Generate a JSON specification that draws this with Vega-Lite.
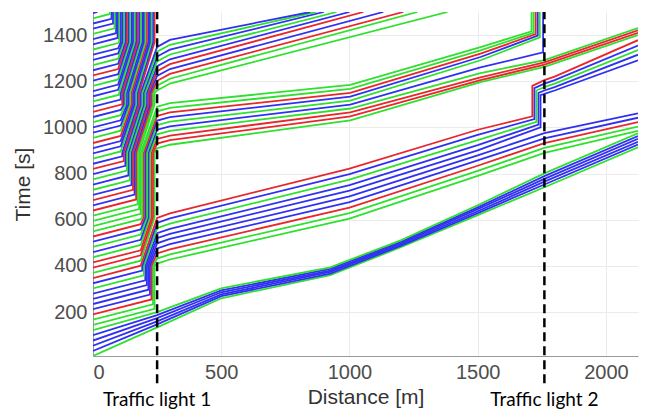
{
"$schema":"https://vega.github.io/schema/vega-lite/v6.json",
"width":545,"height":344,"autosize":"none",
"padding":{"left":93,"top":12,"right":11,"bottom":56},
"background":"white",
"config":{"view":{"stroke":null},
"axis":{"labelFont":"Liberation Sans","labelFontSize":20,"labelColor":"#4d4d4d","titleFont":"Liberation Sans","titleFontSize":21,"titleColor":"#333333","titleFontWeight":"normal","grid":true,"gridColor":"#ebebeb","domainColor":"#9a9a9a","ticks":false,"labelPadding":6,"format":"d"},
"axisX":{"titlePadding":4},"axisY":{"titlePadding":9}},
"layer":[
{"data":{"values":[
{"v":0,"c":"g","x":0,"t":10},{"v":0,"c":"g","x":250,"t":134},{"v":0,"c":"g","x":500,"t":260},{"v":0,"c":"g","x":925,"t":360},{"v":0,"c":"g","x":1200,"t":481},{"v":0,"c":"g","x":1500,"t":620},{"v":0,"c":"g","x":1760,"t":741},{"v":0,"c":"g","x":2125,"t":914},
{"v":1,"c":"b","x":0,"t":32},{"v":1,"c":"b","x":250,"t":147},{"v":1,"c":"b","x":500,"t":269},{"v":1,"c":"b","x":925,"t":367},{"v":1,"c":"b","x":1200,"t":487},{"v":1,"c":"b","x":1500,"t":629},{"v":1,"c":"b","x":1760,"t":753},{"v":1,"c":"b","x":2125,"t":926},
{"v":2,"c":"b","x":0,"t":55},{"v":2,"c":"b","x":250,"t":160},{"v":2,"c":"b","x":500,"t":277},{"v":2,"c":"b","x":925,"t":374},{"v":2,"c":"b","x":1200,"t":493},{"v":2,"c":"b","x":1500,"t":637},{"v":2,"c":"b","x":1760,"t":765},{"v":2,"c":"b","x":2125,"t":938},
{"v":3,"c":"b","x":0,"t":77},{"v":3,"c":"b","x":250,"t":174},{"v":3,"c":"b","x":500,"t":286},{"v":3,"c":"b","x":925,"t":380},{"v":3,"c":"b","x":1200,"t":499},{"v":3,"c":"b","x":1500,"t":646},{"v":3,"c":"b","x":1760,"t":777},{"v":3,"c":"b","x":2125,"t":951},
{"v":4,"c":"b","x":0,"t":100},{"v":4,"c":"b","x":250,"t":187},{"v":4,"c":"b","x":500,"t":294},{"v":4,"c":"b","x":925,"t":387},{"v":4,"c":"b","x":1200,"t":505},{"v":4,"c":"b","x":1500,"t":654},{"v":4,"c":"b","x":1760,"t":789},{"v":4,"c":"b","x":2125,"t":963},
{"v":5,"c":"g","x":0,"t":122},{"v":5,"c":"g","x":250,"t":200},{"v":5,"c":"g","x":500,"t":303},{"v":5,"c":"g","x":925,"t":394},{"v":5,"c":"g","x":1200,"t":511},{"v":5,"c":"g","x":1500,"t":663},{"v":5,"c":"g","x":1760,"t":801},{"v":5,"c":"g","x":2125,"t":975},
{"v":6,"c":"g","x":0,"t":145},{"v":6,"c":"g","x":240,"t":214},{"v":6,"c":"g","x":240,"t":400},{"v":6,"c":"g","x":250,"t":410},{"v":6,"c":"g","x":300,"t":428},{"v":6,"c":"g","x":1000,"t":605},{"v":6,"c":"g","x":1500,"t":790},{"v":6,"c":"g","x":1760,"t":890},{"v":6,"c":"g","x":2125,"t":985},
{"v":7,"c":"g","x":0,"t":167.5},{"v":7,"c":"g","x":234,"t":234},{"v":7,"c":"g","x":234,"t":400},{"v":7,"c":"g","x":250,"t":432},{"v":7,"c":"g","x":300,"t":450},{"v":7,"c":"g","x":1000,"t":629},{"v":7,"c":"g","x":1500,"t":812},{"v":7,"c":"g","x":1760,"t":911},{"v":7,"c":"g","x":2125,"t":1004},
{"v":8,"c":"r","x":0,"t":190},{"v":8,"c":"r","x":228,"t":255},{"v":8,"c":"r","x":228,"t":400},{"v":8,"c":"r","x":250,"t":454},{"v":8,"c":"r","x":300,"t":472},{"v":8,"c":"r","x":1000,"t":653},{"v":8,"c":"r","x":1500,"t":834},{"v":8,"c":"r","x":1760,"t":932},{"v":8,"c":"r","x":2125,"t":1023},
{"v":9,"c":"b","x":0,"t":212.5},{"v":9,"c":"b","x":222,"t":276},{"v":9,"c":"b","x":222,"t":400},{"v":9,"c":"b","x":250,"t":476},{"v":9,"c":"b","x":300,"t":495},{"v":9,"c":"b","x":1000,"t":677},{"v":9,"c":"b","x":1500,"t":857},{"v":9,"c":"b","x":1760,"t":953},{"v":9,"c":"b","x":2125,"t":1042},
{"v":10,"c":"b","x":0,"t":235},{"v":10,"c":"b","x":216,"t":297},{"v":10,"c":"b","x":216,"t":400},{"v":10,"c":"b","x":250,"t":498},{"v":10,"c":"b","x":300,"t":517},{"v":10,"c":"b","x":1000,"t":701},{"v":10,"c":"b","x":1500,"t":879},{"v":10,"c":"b","x":1760,"t":975},{"v":10,"c":"b","x":2125,"t":1061},
{"v":11,"c":"b","x":0,"t":257.5},{"v":11,"c":"b","x":210,"t":317.5},{"v":11,"c":"b","x":210,"t":400},{"v":11,"c":"b","x":250,"t":520},{"v":11,"c":"b","x":300,"t":539},{"v":11,"c":"b","x":1000,"t":726},{"v":11,"c":"b","x":1500,"t":901},{"v":11,"c":"b","x":1745,"t":1000},{"v":11,"c":"b","x":1745,"t":1140},{"v":11,"c":"b","x":1760,"t":1145},{"v":11,"c":"b","x":1800,"t":1160},{"v":11,"c":"b","x":2125,"t":1291},
{"v":12,"c":"b","x":0,"t":280},{"v":12,"c":"b","x":204,"t":338},{"v":12,"c":"b","x":204,"t":400},{"v":12,"c":"b","x":250,"t":542},{"v":12,"c":"b","x":300,"t":561},{"v":12,"c":"b","x":1000,"t":750},{"v":12,"c":"b","x":1500,"t":923},{"v":12,"c":"b","x":1737,"t":1012},{"v":12,"c":"b","x":1737,"t":1150},{"v":12,"c":"b","x":1760,"t":1160},{"v":12,"c":"b","x":1800,"t":1175},{"v":12,"c":"b","x":2125,"t":1315},
{"v":13,"c":"g","x":0,"t":302.5},{"v":13,"c":"g","x":198,"t":359},{"v":13,"c":"g","x":198,"t":400},{"v":13,"c":"g","x":250,"t":564},{"v":13,"c":"g","x":300,"t":583},{"v":13,"c":"g","x":1000,"t":774},{"v":13,"c":"g","x":1500,"t":945},{"v":13,"c":"g","x":1729,"t":1024},{"v":13,"c":"g","x":1729,"t":1160},{"v":13,"c":"g","x":1760,"t":1175},{"v":13,"c":"g","x":1800,"t":1190},{"v":13,"c":"g","x":2125,"t":1335},
{"v":14,"c":"b","x":0,"t":325},{"v":14,"c":"b","x":192,"t":380},{"v":14,"c":"b","x":192,"t":400},{"v":14,"c":"b","x":250,"t":586},{"v":14,"c":"b","x":300,"t":606},{"v":14,"c":"b","x":1000,"t":798},{"v":14,"c":"b","x":1500,"t":968},{"v":14,"c":"b","x":1721,"t":1036},{"v":14,"c":"b","x":1721,"t":1170},{"v":14,"c":"b","x":1760,"t":1190},{"v":14,"c":"b","x":1800,"t":1205},{"v":14,"c":"b","x":2125,"t":1355},
{"v":15,"c":"r","x":0,"t":347.5},{"v":15,"c":"r","x":186,"t":401},{"v":15,"c":"r","x":250,"t":608},{"v":15,"c":"r","x":300,"t":628},{"v":15,"c":"r","x":1000,"t":822},{"v":15,"c":"r","x":1500,"t":990},{"v":15,"c":"r","x":1713,"t":1048},{"v":15,"c":"r","x":1713,"t":1180},{"v":15,"c":"r","x":1760,"t":1205},{"v":15,"c":"r","x":1800,"t":1220},{"v":15,"c":"r","x":2125,"t":1378},
{"v":16,"c":"g","x":0,"t":370},{"v":16,"c":"g","x":186,"t":423},{"v":16,"c":"g","x":240,"t":610},{"v":16,"c":"g","x":240,"t":890},{"v":16,"c":"g","x":250,"t":910},{"v":16,"c":"g","x":300,"t":925},{"v":16,"c":"g","x":1003,"t":1031},{"v":16,"c":"g","x":1511,"t":1196},{"v":16,"c":"g","x":1760,"t":1262},{"v":16,"c":"g","x":2125,"t":1400},
{"v":17,"c":"r","x":0,"t":392.5},{"v":17,"c":"r","x":186,"t":446},{"v":17,"c":"r","x":234,"t":610},{"v":17,"c":"r","x":234,"t":890},{"v":17,"c":"r","x":250,"t":930},{"v":17,"c":"r","x":300,"t":945},{"v":17,"c":"r","x":1003,"t":1048},{"v":17,"c":"r","x":1511,"t":1205},{"v":17,"c":"r","x":1760,"t":1272},{"v":17,"c":"r","x":2125,"t":1410},
{"v":18,"c":"r","x":0,"t":415},{"v":18,"c":"r","x":186,"t":468},{"v":18,"c":"r","x":228,"t":610},{"v":18,"c":"r","x":228,"t":890},{"v":18,"c":"r","x":250,"t":950},{"v":18,"c":"r","x":300,"t":965},{"v":18,"c":"r","x":1003,"t":1065},{"v":18,"c":"r","x":1511,"t":1217},{"v":18,"c":"r","x":1760,"t":1282},{"v":18,"c":"r","x":2125,"t":1421},
{"v":19,"c":"g","x":0,"t":437.5},{"v":19,"c":"g","x":186,"t":491},{"v":19,"c":"g","x":222,"t":610},{"v":19,"c":"g","x":222,"t":890},{"v":19,"c":"g","x":250,"t":970},{"v":19,"c":"g","x":300,"t":985},{"v":19,"c":"g","x":1003,"t":1082},{"v":19,"c":"g","x":1511,"t":1235},{"v":19,"c":"g","x":1760,"t":1292},{"v":19,"c":"g","x":2125,"t":1430},
{"v":20,"c":"b","x":0,"t":460},{"v":20,"c":"b","x":186,"t":513},{"v":20,"c":"b","x":216,"t":610},{"v":20,"c":"b","x":216,"t":890},{"v":20,"c":"b","x":250,"t":990},{"v":20,"c":"b","x":300,"t":1005},{"v":20,"c":"b","x":1003,"t":1099},{"v":20,"c":"b","x":1511,"t":1260},{"v":20,"c":"b","x":1755,"t":1325},{"v":20,"c":"b","x":1755,"t":1500},
{"v":21,"c":"g","x":0,"t":482.5},{"v":21,"c":"g","x":186,"t":536},{"v":21,"c":"g","x":210,"t":610},{"v":21,"c":"g","x":210,"t":890},{"v":21,"c":"g","x":250,"t":1010},{"v":21,"c":"g","x":300,"t":1025},{"v":21,"c":"g","x":1003,"t":1116},{"v":21,"c":"g","x":1511,"t":1291},{"v":21,"c":"g","x":1742,"t":1390},{"v":21,"c":"g","x":1742,"t":1500},
{"v":22,"c":"b","x":0,"t":505},{"v":22,"c":"b","x":186,"t":558},{"v":22,"c":"b","x":204,"t":610},{"v":22,"c":"b","x":204,"t":890},{"v":22,"c":"b","x":250,"t":1030},{"v":22,"c":"b","x":300,"t":1045},{"v":22,"c":"b","x":1003,"t":1133},{"v":22,"c":"b","x":1511,"t":1305},{"v":22,"c":"b","x":1734,"t":1398},{"v":22,"c":"b","x":1734,"t":1500},
{"v":23,"c":"r","x":0,"t":527.5},{"v":23,"c":"r","x":186,"t":581},{"v":23,"c":"r","x":198,"t":610},{"v":23,"c":"r","x":198,"t":890},{"v":23,"c":"r","x":250,"t":1050},{"v":23,"c":"r","x":300,"t":1065},{"v":23,"c":"r","x":1003,"t":1150},{"v":23,"c":"r","x":1511,"t":1320},{"v":23,"c":"r","x":1726,"t":1404},{"v":23,"c":"r","x":1726,"t":1500},
{"v":24,"c":"g","x":0,"t":550},{"v":24,"c":"g","x":186,"t":603},{"v":24,"c":"g","x":192,"t":610},{"v":24,"c":"g","x":192,"t":890},{"v":24,"c":"g","x":250,"t":1070},{"v":24,"c":"g","x":300,"t":1085},{"v":24,"c":"g","x":1003,"t":1167},{"v":24,"c":"g","x":1511,"t":1334},{"v":24,"c":"g","x":1718,"t":1410},{"v":24,"c":"g","x":1718,"t":1500},
{"v":25,"c":"g","x":0,"t":572.5},{"v":25,"c":"g","x":186,"t":626},{"v":25,"c":"g","x":186,"t":890},{"v":25,"c":"g","x":250,"t":1090},{"v":25,"c":"g","x":300,"t":1105},{"v":25,"c":"g","x":1003,"t":1184},{"v":25,"c":"g","x":1511,"t":1348},{"v":25,"c":"g","x":1710,"t":1416},{"v":25,"c":"g","x":1710,"t":1500},
{"v":26,"c":"g","x":0,"t":595},{"v":26,"c":"g","x":180,"t":646},{"v":26,"c":"g","x":180,"t":890},{"v":26,"c":"g","x":240,"t":1100},{"v":26,"c":"g","x":240,"t":1150},{"v":26,"c":"g","x":250,"t":1160},{"v":26,"c":"g","x":300,"t":1190},{"v":26,"c":"g","x":1382,"t":1500},
{"v":27,"c":"g","x":0,"t":617.5},{"v":27,"c":"g","x":174,"t":667},{"v":27,"c":"g","x":174,"t":890},{"v":27,"c":"g","x":234,"t":1100},{"v":27,"c":"g","x":234,"t":1150},{"v":27,"c":"g","x":250,"t":1181},{"v":27,"c":"g","x":300,"t":1211},{"v":27,"c":"g","x":1265,"t":1500},
{"v":28,"c":"r","x":0,"t":640},{"v":28,"c":"r","x":168,"t":688},{"v":28,"c":"r","x":168,"t":890},{"v":28,"c":"r","x":228,"t":1100},{"v":28,"c":"r","x":228,"t":1150},{"v":28,"c":"r","x":250,"t":1202},{"v":28,"c":"r","x":300,"t":1232},{"v":28,"c":"r","x":1210,"t":1500},
{"v":29,"c":"b","x":0,"t":662.5},{"v":29,"c":"b","x":162,"t":709},{"v":29,"c":"b","x":162,"t":890},{"v":29,"c":"b","x":222,"t":1100},{"v":29,"c":"b","x":222,"t":1150},{"v":29,"c":"b","x":250,"t":1223},{"v":29,"c":"b","x":300,"t":1253},{"v":29,"c":"b","x":1132,"t":1500},
{"v":30,"c":"r","x":0,"t":685},{"v":30,"c":"r","x":156,"t":730},{"v":30,"c":"r","x":156,"t":890},{"v":30,"c":"r","x":216,"t":1100},{"v":30,"c":"r","x":216,"t":1150},{"v":30,"c":"r","x":250,"t":1244},{"v":30,"c":"r","x":300,"t":1274},{"v":30,"c":"r","x":1054,"t":1500},
{"v":31,"c":"b","x":0,"t":707.5},{"v":31,"c":"b","x":150,"t":750},{"v":31,"c":"b","x":150,"t":890},{"v":31,"c":"b","x":210,"t":1100},{"v":31,"c":"b","x":210,"t":1150},{"v":31,"c":"b","x":250,"t":1265},{"v":31,"c":"b","x":300,"t":1295},{"v":31,"c":"b","x":1000,"t":1500},
{"v":32,"c":"g","x":0,"t":730},{"v":32,"c":"g","x":144,"t":771},{"v":32,"c":"g","x":144,"t":890},{"v":32,"c":"g","x":204,"t":1100},{"v":32,"c":"g","x":204,"t":1150},{"v":32,"c":"g","x":250,"t":1286},{"v":32,"c":"g","x":300,"t":1316},{"v":32,"c":"g","x":950,"t":1500},
{"v":33,"c":"b","x":0,"t":752.5},{"v":33,"c":"b","x":138,"t":792},{"v":33,"c":"b","x":138,"t":890},{"v":33,"c":"b","x":198,"t":1100},{"v":33,"c":"b","x":198,"t":1150},{"v":33,"c":"b","x":250,"t":1307},{"v":33,"c":"b","x":300,"t":1337},{"v":33,"c":"b","x":900,"t":1500},
{"v":34,"c":"g","x":0,"t":775},{"v":34,"c":"g","x":132,"t":813},{"v":34,"c":"g","x":132,"t":890},{"v":34,"c":"g","x":192,"t":1100},{"v":34,"c":"g","x":192,"t":1150},{"v":34,"c":"g","x":250,"t":1328},{"v":34,"c":"g","x":300,"t":1358},{"v":34,"c":"g","x":870,"t":1500},
{"v":35,"c":"b","x":0,"t":797.5},{"v":35,"c":"b","x":126,"t":833.5},{"v":35,"c":"b","x":126,"t":890},{"v":35,"c":"b","x":186,"t":1100},{"v":35,"c":"b","x":186,"t":1150},{"v":35,"c":"b","x":250,"t":1349},{"v":35,"c":"b","x":300,"t":1379},{"v":35,"c":"b","x":847,"t":1500},
{"v":36,"c":"r","x":0,"t":820},{"v":36,"c":"r","x":120,"t":854},{"v":36,"c":"r","x":120,"t":890},{"v":36,"c":"r","x":180,"t":1100},{"v":36,"c":"r","x":180,"t":1150},{"v":36,"c":"r","x":240,"t":1370},{"v":36,"c":"r","x":240,"t":1500},
{"v":37,"c":"b","x":0,"t":842.5},{"v":37,"c":"b","x":114,"t":875},{"v":37,"c":"b","x":114,"t":890},{"v":37,"c":"b","x":174,"t":1100},{"v":37,"c":"b","x":174,"t":1150},{"v":37,"c":"b","x":234,"t":1370},{"v":37,"c":"b","x":234,"t":1500},
{"v":38,"c":"g","x":0,"t":865},{"v":38,"c":"g","x":108,"t":896},{"v":38,"c":"g","x":168,"t":1100},{"v":38,"c":"g","x":168,"t":1150},{"v":38,"c":"g","x":228,"t":1370},{"v":38,"c":"g","x":228,"t":1500},
{"v":39,"c":"b","x":0,"t":887.5},{"v":39,"c":"b","x":108,"t":918},{"v":39,"c":"b","x":162,"t":1100},{"v":39,"c":"b","x":162,"t":1150},{"v":39,"c":"b","x":222,"t":1370},{"v":39,"c":"b","x":222,"t":1500},
{"v":40,"c":"b","x":0,"t":910},{"v":40,"c":"b","x":108,"t":941},{"v":40,"c":"b","x":156,"t":1100},{"v":40,"c":"b","x":156,"t":1150},{"v":40,"c":"b","x":216,"t":1370},{"v":40,"c":"b","x":216,"t":1500},
{"v":41,"c":"r","x":0,"t":932.5},{"v":41,"c":"r","x":108,"t":963},{"v":41,"c":"r","x":150,"t":1100},{"v":41,"c":"r","x":150,"t":1150},{"v":41,"c":"r","x":210,"t":1370},{"v":41,"c":"r","x":210,"t":1500},
{"v":42,"c":"g","x":0,"t":955},{"v":42,"c":"g","x":108,"t":986},{"v":42,"c":"g","x":144,"t":1100},{"v":42,"c":"g","x":144,"t":1150},{"v":42,"c":"g","x":204,"t":1370},{"v":42,"c":"g","x":204,"t":1500},
{"v":43,"c":"b","x":0,"t":977.5},{"v":43,"c":"b","x":108,"t":1008},{"v":43,"c":"b","x":138,"t":1100},{"v":43,"c":"b","x":138,"t":1150},{"v":43,"c":"b","x":198,"t":1370},{"v":43,"c":"b","x":198,"t":1500},
{"v":44,"c":"b","x":0,"t":1000},{"v":44,"c":"b","x":108,"t":1031},{"v":44,"c":"b","x":132,"t":1100},{"v":44,"c":"b","x":132,"t":1150},{"v":44,"c":"b","x":192,"t":1370},{"v":44,"c":"b","x":192,"t":1500},
{"v":45,"c":"g","x":0,"t":1022.5},{"v":45,"c":"g","x":108,"t":1053},{"v":45,"c":"g","x":126,"t":1100},{"v":45,"c":"g","x":126,"t":1150},{"v":45,"c":"g","x":186,"t":1370},{"v":45,"c":"g","x":186,"t":1500},
{"v":46,"c":"b","x":0,"t":1045},{"v":46,"c":"b","x":108,"t":1076},{"v":46,"c":"b","x":120,"t":1100},{"v":46,"c":"b","x":120,"t":1150},{"v":46,"c":"b","x":180,"t":1370},{"v":46,"c":"b","x":180,"t":1500},
{"v":47,"c":"r","x":0,"t":1067.5},{"v":47,"c":"r","x":114,"t":1100},{"v":47,"c":"r","x":114,"t":1150},{"v":47,"c":"r","x":174,"t":1370},{"v":47,"c":"r","x":174,"t":1500},
{"v":48,"c":"b","x":0,"t":1090},{"v":48,"c":"b","x":108,"t":1121},{"v":48,"c":"b","x":108,"t":1150},{"v":48,"c":"b","x":168,"t":1370},{"v":48,"c":"b","x":168,"t":1500},
{"v":49,"c":"g","x":0,"t":1112.5},{"v":49,"c":"g","x":102,"t":1141.6},{"v":49,"c":"g","x":102,"t":1150},{"v":49,"c":"g","x":162,"t":1370},{"v":49,"c":"g","x":162,"t":1500},
{"v":50,"c":"b","x":0,"t":1135},{"v":50,"c":"b","x":98,"t":1163},{"v":50,"c":"b","x":156,"t":1370},{"v":50,"c":"b","x":156,"t":1500},
{"v":51,"c":"b","x":0,"t":1157.5},{"v":51,"c":"b","x":98,"t":1185.5},{"v":51,"c":"b","x":150,"t":1370},{"v":51,"c":"b","x":150,"t":1500},
{"v":52,"c":"g","x":0,"t":1180},{"v":52,"c":"g","x":98,"t":1208},{"v":52,"c":"g","x":144,"t":1370},{"v":52,"c":"g","x":144,"t":1500},
{"v":53,"c":"b","x":0,"t":1202.5},{"v":53,"c":"b","x":98,"t":1230.5},{"v":53,"c":"b","x":138,"t":1370},{"v":53,"c":"b","x":138,"t":1500},
{"v":54,"c":"r","x":0,"t":1225},{"v":54,"c":"r","x":98,"t":1253},{"v":54,"c":"r","x":132,"t":1370},{"v":54,"c":"r","x":132,"t":1500},
{"v":55,"c":"b","x":0,"t":1247.5},{"v":55,"c":"b","x":98,"t":1275.5},{"v":55,"c":"b","x":126,"t":1370},{"v":55,"c":"b","x":126,"t":1500},
{"v":56,"c":"g","x":0,"t":1270},{"v":56,"c":"g","x":98,"t":1298},{"v":56,"c":"g","x":120,"t":1370},{"v":56,"c":"g","x":120,"t":1500},
{"v":57,"c":"b","x":0,"t":1292.5},{"v":57,"c":"b","x":98,"t":1320.5},{"v":57,"c":"b","x":114,"t":1370},{"v":57,"c":"b","x":114,"t":1500},
{"v":58,"c":"b","x":0,"t":1315},{"v":58,"c":"b","x":98,"t":1343},{"v":58,"c":"b","x":108,"t":1370},{"v":58,"c":"b","x":108,"t":1500},
{"v":59,"c":"g","x":0,"t":1337.5},{"v":59,"c":"g","x":98,"t":1365.5},{"v":59,"c":"g","x":102,"t":1370},{"v":59,"c":"g","x":102,"t":1500},
{"v":60,"c":"b","x":0,"t":1360},{"v":60,"c":"b","x":96,"t":1387.4},{"v":60,"c":"b","x":96,"t":1500},
{"v":61,"c":"b","x":0,"t":1382.5},{"v":61,"c":"b","x":90,"t":1408.2},{"v":61,"c":"b","x":90,"t":1500},
{"v":62,"c":"g","x":0,"t":1405},{"v":62,"c":"g","x":84,"t":1429},{"v":62,"c":"g","x":84,"t":1500},
{"v":63,"c":"b","x":0,"t":1427.5},{"v":63,"c":"b","x":78,"t":1449.8},{"v":63,"c":"b","x":78,"t":1500},
{"v":64,"c":"b","x":0,"t":1450},{"v":64,"c":"b","x":72,"t":1470.6},{"v":64,"c":"b","x":72,"t":1500},
{"v":65,"c":"g","x":0,"t":1472.5},{"v":65,"c":"g","x":66,"t":1491.4},{"v":65,"c":"g","x":66,"t":1500},
{"v":66,"c":"b","x":0,"t":1495},{"v":66,"c":"b","x":17.5,"t":1500}
]},
"mark":{"type":"line","strokeWidth":1.8,"clip":true},
"encoding":{
"x":{"field":"x","type":"quantitative","title":"Distance [m]","scale":{"domain":[0,2125],"nice":false,"zero":false},"axis":{"values":[0,500,1000,1500,2000]}},
"y":{"field":"t","type":"quantitative","title":"Time [s]","scale":{"domain":[10,1500],"nice":false,"zero":false},"axis":{"values":[200,400,600,800,1000,1200,1400]}},
"detail":{"field":"v","type":"nominal"},
"color":{"field":"c","type":"nominal","scale":{"domain":["b","g","r"],"range":["#3030f2","#2fe02f","#e8262b"]},"legend":null},
"order":{"field":"t","type":"quantitative"}}},
{"data":{"values":[{"x":250,"y1":-108,"y2":1500},{"x":1760,"y1":-108,"y2":1500}]},
"mark":{"type":"rule","color":"black","strokeWidth":2.5,"strokeDash":[9,5],"clip":false},
"encoding":{
"x":{"field":"x","type":"quantitative","title":"Distance [m]","scale":{"domain":[0,2125],"nice":false,"zero":false},"axis":{"values":[0,500,1000,1500,2000]}},
"y":{"field":"y1","type":"quantitative","title":"Time [s]","scale":{"domain":[10,1500],"nice":false,"zero":false},"axis":{"values":[200,400,600,800,1000,1200,1400]}},
"y2":{"field":"y2"}}},
{"data":{"values":[{"x":250,"y":-182,"label":"Traffic light 1"},{"x":1760,"y":-182,"label":"Traffic light 2"}]},
"mark":{"type":"text","font":"Lato","fontSize":19,"color":"black","align":"center","baseline":"middle","clip":false},
"encoding":{
"x":{"field":"x","type":"quantitative","title":"Distance [m]","scale":{"domain":[0,2125],"nice":false,"zero":false},"axis":{"values":[0,500,1000,1500,2000]}},
"y":{"field":"y","type":"quantitative","title":"Time [s]","scale":{"domain":[10,1500],"nice":false,"zero":false},"axis":{"values":[200,400,600,800,1000,1200,1400]}},
"text":{"field":"label"}}}
]
}
